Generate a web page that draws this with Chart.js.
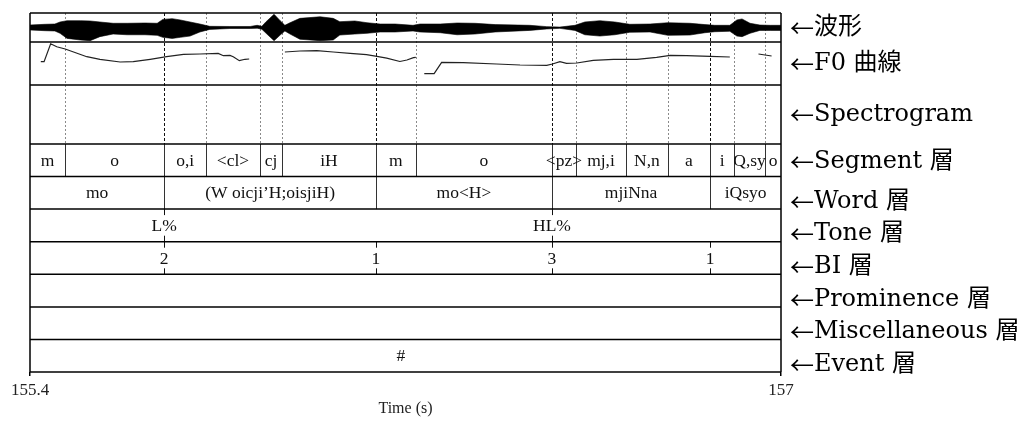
<!DOCTYPE html>
<html>
<head>
<meta charset="utf-8">
<script src="https://cdn.jsdelivr.net/npm/chart.js@4.4.1/dist/chart.umd.min.js"></script>
<style>
  html, body { margin: 0; padding: 0; background: #fff; }
  #wrap { width: 1023px; height: 421px; position: relative; }
</style>
</head>
<body>
<div id="wrap"><canvas id="tg"></canvas></div>
<script>
// Time window (s)
const tStart = 155.4;
const tEnd = 157;
const axisTicks = [155.4, 157];

// Waveform envelope (+1 / -1 = top / bottom of its panel)
const waveTimes = [155.400, 155.432, 155.453, 155.464, 155.479, 155.507, 155.528, 155.549, 155.577, 155.607,
                   155.645, 155.671, 155.683, 155.703, 155.720, 155.741, 155.762, 155.783, 155.826, 155.869,
                   155.884, 155.894, 155.903, 155.920, 155.933, 155.943, 155.954, 155.975, 156.018, 156.046,
                   156.060, 156.092, 156.118, 156.146, 156.178, 156.216, 156.231, 156.274, 156.310, 156.348,
                   156.391, 156.465, 156.501, 156.529, 156.561, 156.582, 156.614, 156.646, 156.678, 156.721,
                   156.759, 156.806, 156.838, 156.859, 156.891, 156.906, 156.917, 156.934, 156.955, 156.977, 157.000];
const waveTop = [0.17, 0.22, 0.24, 0.38, 0.47, 0.47, 0.45, 0.38, 0.29, 0.29,
                 0.31, 0.29, 0.56, 0.61, 0.52, 0.38, 0.24, 0.08, 0.07, 0.07,
                 0.15, 0.08, 0.40, 0.91, 0.47, 0.15, 0.33, 0.63, 0.74, 0.63,
                 0.40, 0.45, 0.33, 0.24, 0.24, 0.15, 0.24, 0.24, 0.31, 0.29,
                 0.20, 0.15, 0.06, 0.03, 0.15, 0.38, 0.47, 0.38, 0.22, 0.24,
                 0.33, 0.29, 0.20, 0.15, 0.15, 0.52, 0.59, 0.29, 0.17, 0.15, 0.15];
const waveBottom = [-0.17, -0.22, -0.24, -0.40, -0.75, -0.86, -0.91, -0.63, -0.45, -0.50,
                    -0.50, -0.54, -0.68, -0.75, -0.68, -0.59, -0.31, -0.13, -0.07, -0.07,
                    -0.05, -0.12, -0.40, -0.91, -0.52, -0.24, -0.45, -0.81, -0.91, -0.86,
                    -0.52, -0.45, -0.40, -0.31, -0.31, -0.24, -0.31, -0.36, -0.50, -0.45,
                    -0.31, -0.20, -0.10, -0.06, -0.20, -0.50, -0.59, -0.50, -0.33, -0.31,
                    -0.54, -0.52, -0.36, -0.29, -0.26, -0.59, -0.63, -0.40, -0.20, -0.20, -0.20];

// F0 contour (0 = bottom, 100 = top of its panel), null = unvoiced gap
const f0Times = [155.423, 155.430, 155.444, 155.457, 155.475, 155.521, 155.549, 155.592, 155.620, 155.656,
                 155.691, 155.727, 155.762, 155.801, 155.812, 155.826, 155.833, 155.846, 155.858, 155.867,
                 155.900,
                 155.943, 155.975, 156.011, 156.046, 156.082, 156.117, 156.139, 156.160, 156.188, 156.203,
                 156.217, 156.222,
                 156.230,
                 156.240, 156.261, 156.277, 156.323, 156.394, 156.444, 156.501, 156.513, 156.529, 156.543,
                 156.565, 156.600, 156.643, 156.693, 156.735, 156.764, 156.799, 156.849, 156.891,
                 156.920,
                 156.952, 156.980];
const f0Level = [54.2, 54.2, 96, 89, 83.7, 65.8, 59.8, 53.5, 54.2, 59.8,
                 65.8, 71.4, 72.1, 73.6, 68.2, 69, 65.8, 56.6, 59.8, 60.5,
                 null,
                 76.7, 79.1, 79.8, 76.7, 73.7, 70.5, 66.7, 62.3, 54.7, 58.1,
                 63.5, 64.4,
                 null,
                 26.3, 26.3, 52.8, 51.9, 48.8, 46.5, 45.8, 48.8, 54.2, 50.5,
                 51.2, 57.4, 59.8, 59.8, 64.4, 69.1, 68.1, 66.7, 65.1,
                 null,
                 72.1, 67.4];

// Interval tiers
const segBounds = [155.475, 155.686, 155.775, 155.890, 155.937, 156.137, 156.222, 156.512,
                   156.563, 156.670, 156.759, 156.849, 156.900, 156.966];
const segLabels = ['m', 'o', 'o,i', '<cl>', 'cj', 'iH', 'm', 'o', '<pz>', 'mj,i', 'N,n', 'a', 'i', 'Q,sy', 'o'];
const wordBounds = [155.686, 156.137, 156.512, 156.849];
const wordLabels = ['mo', '(W oicji\u2019H;oisjiH)', 'mo<H>', 'mjiNna', 'iQsyo'];

// Point tiers
const toneTimes = [155.686, 156.512];
const toneLabels = ['L%', 'HL%'];
const biTimes = [155.686, 156.137, 156.512, 156.849];
const biLabels = ['2', '1', '3', '1'];
const eventTimes = [156.190];
const eventLabels = ['#'];

const panelNames = ['波形', 'F0 曲線', 'Spectrogram', 'Segment 層', 'Word 層', 'Tone 層',
                    'BI 層', 'Prominence 層', 'Miscellaneous 層', 'Event 層'];

// Layout: row edges in px from the top of the plot area
const rowEdges = [0, 29, 72, 131, 163.6, 196.1, 228.7, 261.3, 293.9, 326.4, 359];
const labelY = [15, 51, 102, 149, 189, 221, 254, 287, 319, 352];
const H = rowEdges[rowEdges.length - 1];
const serif = '"Liberation Serif", "Times New Roman", serif';

// hidden axis whose [vBottom, vTop] lands on a given row band
function bandAxis(top, bottom, vTop, vBottom) {
    const range = (vTop - vBottom) * H / (bottom - top);
    const max = vTop + top * range / H;
    return { display: false, min: max - range, max: max };
}

const tierPlugin = {
    id: 'tiers',
    beforeDatasetsDraw(chart) {
        const { ctx, scales: { x, y } } = chart;
        ctx.save();
        ctx.lineWidth = 1;
        // guides through waveform / F0 / spectrogram
        segBounds.forEach(t => {
            const isWord = wordBounds.some(w => Math.abs(w - t) < 1e-6);
            const px = Math.round(x.getPixelForValue(t)) + 0.5;
            ctx.strokeStyle = isWord ? '#111' : '#8a8a8a';
            ctx.setLineDash(isWord ? [3, 2] : [2, 2]);
            ctx.beginPath();
            ctx.moveTo(px, y.getPixelForValue(rowEdges[0]));
            ctx.lineTo(px, y.getPixelForValue(rowEdges[3]));
            ctx.stroke();
        });
        ctx.restore();
    },
    afterDatasetsDraw(chart) {
        const { ctx, chartArea: a, scales: { x, y } } = chart;
        const px = t => x.getPixelForValue(t);
        const py = v => y.getPixelForValue(v);
        ctx.save();

        // interval tiers
        const intervalTier = (bounds, labels, row) => {
            const y0 = py(rowEdges[row]), y1 = py(rowEdges[row + 1]);
            ctx.strokeStyle = '#333';
            ctx.lineWidth = 1;
            bounds.forEach(t => {
                const p = Math.round(px(t)) + 0.5;
                ctx.beginPath(); ctx.moveTo(p, y0); ctx.lineTo(p, y1); ctx.stroke();
            });
            const edges = [tStart, ...bounds, tEnd];
            ctx.fillStyle = '#111';
            ctx.font = '17.5px ' + serif;
            ctx.textAlign = 'center';
            ctx.textBaseline = 'middle';
            labels.forEach((s, i) => {
                ctx.fillText(s, (px(edges[i]) + px(edges[i + 1])) / 2, (y0 + y1) / 2 + 1);
            });
        };
        intervalTier(segBounds, segLabels, 3);
        intervalTier(wordBounds, wordLabels, 4);

        // point tiers
        const pointTier = (times, labels, row, ticks) => {
            const y0 = py(rowEdges[row]), y1 = py(rowEdges[row + 1]);
            ctx.strokeStyle = '#111';
            ctx.lineWidth = 1;
            ctx.fillStyle = '#111';
            ctx.font = '17.5px ' + serif;
            ctx.textAlign = 'center';
            ctx.textBaseline = 'middle';
            times.forEach((t, i) => {
                const p = Math.round(px(t)) + 0.5;
                if (ticks) {
                    ctx.beginPath();
                    ctx.moveTo(p, y0); ctx.lineTo(p, y0 + 6);
                    ctx.moveTo(p, y1 - 6); ctx.lineTo(p, y1);
                    ctx.stroke();
                }
                ctx.fillText(labels[i], px(t), (y0 + y1) / 2 + 1);
            });
        };
        pointTier(toneTimes, toneLabels, 5, true);
        pointTier(biTimes, biLabels, 6, true);
        pointTier(eventTimes, eventLabels, 9, false);

        // frame and row separators
        ctx.strokeStyle = '#000';
        ctx.lineWidth = 1.5;
        rowEdges.forEach(v => {
            const yy = py(v);
            ctx.beginPath(); ctx.moveTo(a.left, yy); ctx.lineTo(a.right, yy); ctx.stroke();
        });
        ctx.beginPath();
        ctx.moveTo(a.left, a.top); ctx.lineTo(a.left, a.bottom);
        ctx.moveTo(a.right, a.top); ctx.lineTo(a.right, a.bottom);
        ctx.stroke();

        // panel names on the right
        ctx.textAlign = 'left';
        ctx.textBaseline = 'middle';
        ctx.fillStyle = '#000';
        panelNames.forEach((s, i) => {
            const yy = py(labelY[i]);
            ctx.font = '24px "Noto Sans CJK JP"';
            ctx.fillText('\u2190', a.right + 9, yy);
            const w = ctx.measureText('\u2190').width;
            ctx.font = '24px "DejaVu Serif", "Noto Sans CJK JP"';
            ctx.fillText(s, a.right + 9 + w, yy);
        });
        ctx.restore();
    }
};

new Chart(document.getElementById('tg'), {
    type: 'line',
    data: {
        datasets: [
            {
                label: 'wave top',
                data: waveTimes.map((t, i) => ({ x: t, y: waveTop[i] })),
                yAxisID: 'yWave',
                borderColor: '#000',
                borderWidth: 0.6,
                backgroundColor: '#000',
                fill: '+1',
                pointRadius: 0,
                tension: 0
            },
            {
                label: 'wave bottom',
                data: waveTimes.map((t, i) => ({ x: t, y: waveBottom[i] })),
                yAxisID: 'yWave',
                borderColor: '#000',
                borderWidth: 0.6,
                fill: false,
                pointRadius: 0,
                tension: 0
            },
            {
                label: 'F0',
                data: f0Times.map((t, i) => ({ x: t, y: f0Level[i] })),
                yAxisID: 'yF0',
                borderColor: '#222',
                borderWidth: 1.2,
                fill: false,
                pointRadius: 0,
                spanGaps: false,
                tension: 0
            }
        ]
    },
    options: {
        responsive: true,
        maintainAspectRatio: false,
        animation: false,
        events: [],
        layout: { padding: { left: 30, right: 242, top: 13, bottom: 0 } },
        plugins: { legend: { display: false }, tooltip: { enabled: false } },
        scales: {
            x: {
                type: 'linear',
                min: tStart,
                max: tEnd,
                afterBuildTicks: ax => { ax.ticks = axisTicks.map(v => ({ value: v })); },
                ticks: {
                    callback: v => String(v),
                    color: '#222',
                    font: { family: serif, size: 17 },
                    padding: 4,
                    maxRotation: 0,
                    autoSkip: false
                },
                grid: { drawOnChartArea: false, drawTicks: true, tickLength: 4, color: '#000', lineWidth: 1.5 },
                border: { display: false },
                title: {
                    display: true,
                    text: 'Time (s)',
                    color: '#222',
                    font: { family: serif, size: 16 },
                    padding: { top: 2, bottom: 3 }
                },
                afterFit: ax => { ax.height = 49; }
            },
            y: { display: false, reverse: true, min: 0, max: H },
            yWave: bandAxis(rowEdges[0], rowEdges[1], 1, -1),
            yF0: bandAxis(rowEdges[1], rowEdges[2], 100, 0)
        }
    },
    plugins: [tierPlugin]
});
</script>
</body>
</html>
